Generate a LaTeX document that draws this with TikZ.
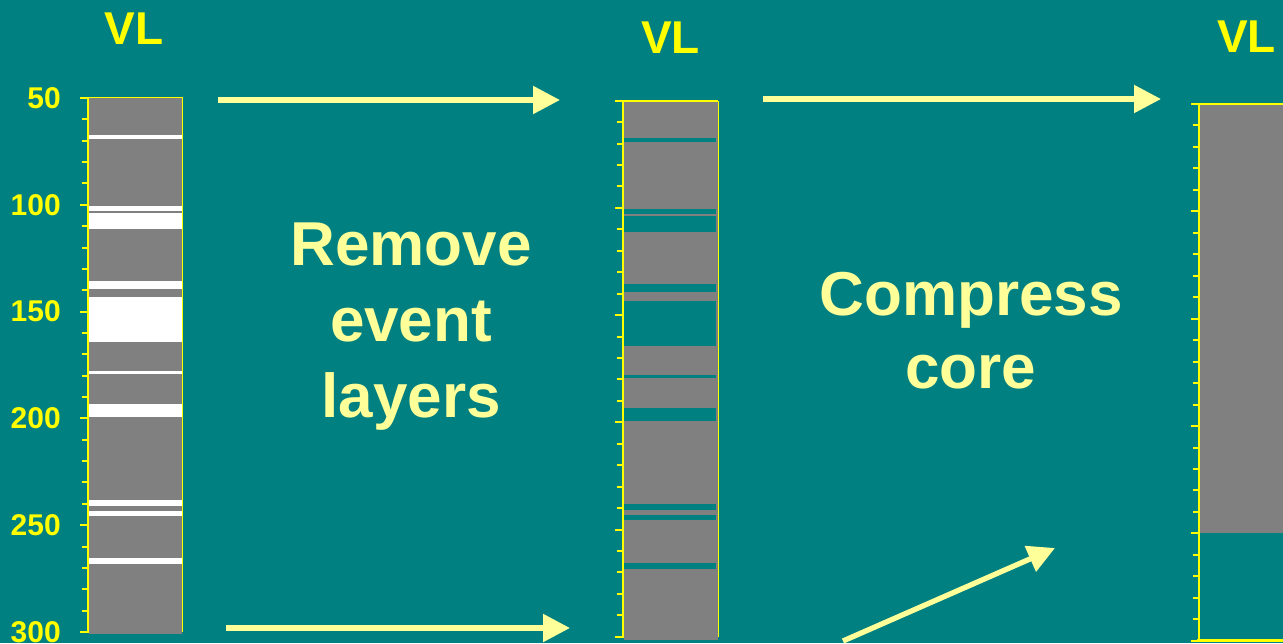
\documentclass[tikz,border=0pt]{standalone}
\usepackage{fontspec}
\setmainfont{Liberation Sans}
\usetikzlibrary{arrows.meta}
\definecolor{bg}{HTML}{008080}
\definecolor{coregray}{HTML}{808080}
\definecolor{ylw}{HTML}{FFFF00}
\definecolor{pale}{HTML}{FFFF99}
\tikzset{
  numlab/.style={anchor=east, inner sep=0pt, text=ylw, font=\fontsize{30}{36}\selectfont\bfseries},
  vllab/.style={inner sep=0pt, text=ylw, font=\fontsize{46}{52}\selectfont\bfseries},
  bigtext/.style={inner sep=0pt, align=center, text=pale},
  arr/.style={draw=pale, line width=5.3pt, -{Triangle[length=27pt,width=27pt]}},
  axisline/.style={draw=ylw, line width=2pt},
  tickline/.style={draw=ylw, line width=2pt},
}
\begin{document}
\begin{tikzpicture}[x=1pt,y=-1pt]
\fill[bg] (0,0) rectangle (1283,643);
\useasboundingbox (0,0) rectangle (1283,643);

% ---------- column 1 (original core) ----------
\fill[coregray] (88.7,98) rectangle (182,634);
\foreach \a/\b in {67.3/69.2,100.6/102.9,103.8/111.3,135.7/139.4,143.2/164.2,177.8/179.2,193.3/199.3,238.2/241.0,243.4/245.7,265.4/268.2}
  \fill[white] (88.7,{98+(\a-50)*2.136}) rectangle (182,{98+(\b-50)*2.136});
\draw[draw=ylw, line width=1.5pt] (182.5,97) -- (182.5,632);
\draw[draw=ylw, line width=1.5pt] (80,97.5) -- (183,97.5);
\draw[axisline] (87.7,97) -- (87.7,633);
\foreach \k in {0,...,25}{
  \pgfmathtruncatemacro{\m}{mod(\k,5)}
  \ifnum\m=0
    \draw[tickline] (80,{98+\k*21.36}) -- (87.7,{98+\k*21.36});
  \else
    \draw[tickline] (81.5,{98+\k*21.36}) -- (87.7,{98+\k*21.36});
  \fi
}
\foreach \d/\k in {50/0,100/5,150/10,200/15,250/20,300/25}
  \node[numlab] (lab\d) at (61,{98+\k*21.36}) {\d};
\node[vllab] (vl1) at (134,28.5) {VL};

% ---------- column 2 (event layers removed) ----------
\draw[draw=ylw, line width=2pt] (717,100) -- (717,637);
\fill[coregray] (624,100.7) rectangle (718,640);
\foreach \a/\b in {67.3/69.2,100.6/102.9,103.8/111.3,135.7/139.4,143.2/164.2,177.8/179.2,193.3/199.3,238.2/241.0,243.4/245.7,265.4/268.2}
  \fill[bg] (624,{100.7+(\a-50)*2.144}) rectangle (716,{100.7+(\b-50)*2.144});
\draw[draw=ylw, line width=0.8pt] (718.6,101) -- (718.6,637);
\draw[draw=ylw, line width=2pt] (615,100.5) -- (718,100.5);
\draw[axisline] (622.7,100) -- (622.7,638);
\foreach \k in {0,...,25}{
  \pgfmathtruncatemacro{\m}{mod(\k,5)}
  \ifnum\m=0
    \draw[tickline] (615,{100.7+\k*21.44}) -- (622.7,{100.7+\k*21.44});
  \else
    \draw[tickline] (616.5,{100.7+\k*21.44}) -- (622.7,{100.7+\k*21.44});
  \fi
}
\node[vllab] (vl2) at (670.5,37.5) {VL};

% ---------- column 3 (compressed core) ----------
\fill[coregray] (1200,104.7) rectangle (1283,533.3);
\draw[draw=ylw, line width=1.3pt] (1198,104) -- (1283,104);
\draw[draw=ylw, line width=2.5pt] (1197,640.7) -- (1283,640.7);
\draw[axisline] (1198.7,103) -- (1198.7,642);
\foreach \k in {0,...,25}{
  \pgfmathtruncatemacro{\m}{mod(\k,5)}
  \ifnum\m=0
    \draw[tickline] (1191,{104+\k*21.47}) -- (1198.7,{104+\k*21.47});
  \else
    \draw[tickline] (1192.7,{104+\k*21.47}) -- (1198.7,{104+\k*21.47});
  \fi
}
\node[vllab] (vl3) at (1246.5,36.7) {VL};

% ---------- texts ----------
\node[bigtext, font=\fontsize{62}{76}\selectfont\bfseries] (remove) at (411,327) {Remove\\event\\layers};
\node[bigtext, font=\fontsize{62}{73}\selectfont\bfseries] (compress) at (971,331) {Compress\\core};

% ---------- arrows ----------
\coordinate (a1s) at (218,100);
\coordinate (a1e) at (560,100);
\coordinate (a2s) at (226,628);
\coordinate (a2e) at (570,628);
\coordinate (a3s) at (763,99);
\coordinate (a3e) at (1161,99);
\coordinate (a4s) at (843,641);
\coordinate (a4e) at (1055,548);
\draw[arr] (a1s) -- (a1e);
\draw[arr] (a2s) -- (a2e);
\draw[arr] (a3s) -- (a3e);
\draw[arr] (a4s) -- (a4e);
\end{tikzpicture}
\end{document}
